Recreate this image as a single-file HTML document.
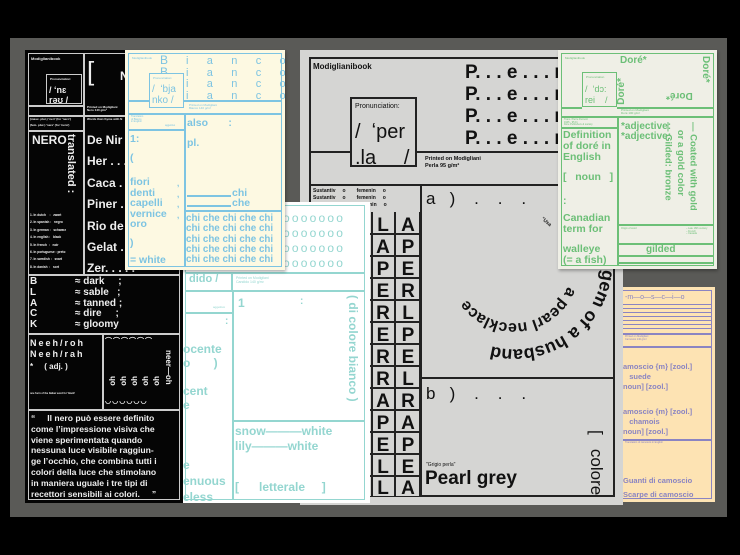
<!DOCTYPE html>
<html><head><meta charset="utf-8"><style>
*{margin:0;padding:0;box-sizing:border-box}
body{width:740px;height:555px;background:#000;position:relative;overflow:hidden;font-family:"Liberation Sans",sans-serif;font-weight:bold}
.a{position:absolute}
.bg{left:10px;top:38px;width:717px;height:479px;background:#5a5a57}
.card{position:absolute;overflow:hidden}
.l{position:absolute}
.t{position:absolute;white-space:nowrap;line-height:1}
.v{writing-mode:vertical-rl}
</style></head><body>
<div class="a bg"></div>

<!-- BLACK CARD -->
<div class="card" style="left:25px;top:50px;width:160px;height:453px;background:#050505;color:#eee">
 <div class="l" style="left:3px;top:3px;width:152px;height:447px;border:1.5px solid #ccc"></div>
 <div class="t" style="left:6px;top:7px;font-size:4px">Modiglianibook</div>
 <div class="l" style="left:58px;top:4px;width:1.5px;height:62px;background:#ccc"></div>
 <div class="l" style="left:3px;top:55px;width:56px;height:1.5px;background:#ccc"></div>
 <div class="l" style="left:3px;top:65px;width:152px;height:1.5px;background:#ccc"></div>
 <div class="l" style="left:21px;top:24px;width:36px;height:30px;border:1.5px solid #ccc;background:#050505"></div>
 <div class="t" style="left:25px;top:28px;font-size:3px">Pronunciation:</div>
 <div class="t" style="left:24px;top:36px;font-size:9px">/ ʻnɛ</div>
 <div class="t" style="left:24px;top:46px;font-size:9px">rəʊ /</div>
 <div class="t" style="left:62px;top:8px;font-size:26px;font-weight:normal">[</div>
 <div class="t" style="left:95px;top:20px;font-size:12px">N</div>
 <div class="t" style="left:62px;top:56px;font-size:3px">Printed on Modigliani<br>Nero 140 g/m²</div>
 <div class="t" style="left:5px;top:68px;font-size:3px">(masc. plur.) 'neri' (for 'nero')<br><br>(fem. plur.) 'nere' (for 'nera')</div>
 <div class="l" style="left:3px;top:80px;width:56px;height:1.5px;background:#ccc"></div>
 <div class="l" style="left:58px;top:65px;width:1.5px;height:160px;background:#ccc"></div>
 <div class="t" style="left:62px;top:68px;font-size:3px">Words that rhyme with N</div>
 <div class="t" style="left:7px;top:84px;font-size:12px">NERO</div>
 <div class="t v" style="left:40px;top:84px;font-size:11px">translated :</div>
 <div class="t" style="left:62px;top:80px;font-size:12px;line-height:21.4px">De Nir . .<br>Her . . . .<br>Caca . . .<br>Piner . . .<br>Rio de Ja<br>Gelat . . .<br>Zer. . . . .</div>
 <div class="t" style="left:5px;top:162px;font-size:3.2px;line-height:7.4px">1. In dutch &nbsp;&nbsp;&nbsp;:&nbsp;&nbsp; zwart<br>2. In spanish :&nbsp;&nbsp; negro<br>3. In german :&nbsp;&nbsp; schwarz<br>4. In english :&nbsp;&nbsp; black<br>5. In french &nbsp;:&nbsp;&nbsp; noir<br>6. In portuguese : preto<br>7. In swedish :&nbsp;&nbsp; svart<br>8. In danish &nbsp;:&nbsp;&nbsp; sort</div>
 <div class="l" style="left:3px;top:224px;width:152px;height:1.5px;background:#ccc"></div>
 <div class="t" style="left:5px;top:227px;font-size:10px;line-height:10.8px">B<br>L<br>A<br>C<br>K</div>
 <div class="t" style="left:50px;top:227px;font-size:10px;line-height:10.8px">≈ dark &nbsp;&nbsp;&nbsp;&nbsp;;<br>≈ sable &nbsp;&nbsp;;<br>≈ tanned ;<br>≈ dire &nbsp;&nbsp;&nbsp;&nbsp;;<br>≈ gloomy</div>
 <div class="l" style="left:3px;top:283px;width:152px;height:1.5px;background:#ccc"></div>
 <div class="l" style="left:77px;top:283px;width:1.5px;height:77px;background:#ccc"></div>
 <div class="t" style="left:5px;top:288px;font-size:9px;letter-spacing:2px;line-height:11px">Neeh/roh<br>Neeh/rah</div>
 <div class="t" style="left:5px;top:313px;font-size:8px">* &nbsp;&nbsp;&nbsp;&nbsp;( adj. )</div>
 <div class="t" style="left:5px;top:343px;font-size:2.5px">one form of the Italian word for 'black'</div>
 <div class="t" style="left:80px;top:288px;font-size:7px;letter-spacing:1px">⌒⌒⌒⌒⌒⌒</div>
 <div class="t v" style="left:139px;top:300px;font-size:8px">neer—oh</div>
 <div class="t v" style="left:84px;top:326px;font-size:8px;transform:rotate(180deg)">oh</div>
 <div class="t v" style="left:95px;top:326px;font-size:8px;transform:rotate(180deg)">oh</div>
 <div class="t v" style="left:106px;top:326px;font-size:8px;transform:rotate(180deg)">oh</div>
 <div class="t v" style="left:117px;top:326px;font-size:8px;transform:rotate(180deg)">oh</div>
 <div class="t v" style="left:128px;top:326px;font-size:8px;transform:rotate(180deg)">oh</div>
 <div class="t" style="left:80px;top:348px;font-size:7px;letter-spacing:1px">◡◡◡◡◡◡</div>
 <div class="l" style="left:3px;top:359px;width:152px;height:1.5px;background:#ccc"></div>
 <div class="t" style="left:6px;top:363px;font-size:8.6px;line-height:10.8px">“&nbsp;&nbsp;&nbsp;&nbsp;&nbsp;Il nero può essere definito<br>come l’impressione visiva che<br>viene sperimentata quando<br>nessuna luce visibile raggiun-<br>ge l’occhio, che combina tutti i<br>colori della luce che stimolano<br>in maniera uguale i tre tipi di<br>recettori sensibili ai colori. &nbsp;&nbsp;&nbsp;&nbsp;”</div>
</div>

<!-- PERLA CARD -->
<div class="card" style="left:300px;top:50px;width:323px;height:455px;background:#d5d5d3;color:#111">
 <div class="l" style="left:9px;top:7px;width:306px;height:440px;border:2px solid #222"></div>
 <div class="t" style="left:13px;top:13px;font-size:8px">Modiglianibook</div>
 <div class="t" style="left:165px;top:12px;font-size:19px;line-height:22px">P. . . e . . . r. .<br>P. . . e . . . r. .<br>P. . . e . . . r. .<br>P. . . e . . . r. .</div>
 <div class="l" style="left:50px;top:47px;width:67px;height:70px;border:2px solid #222"></div>
 <div class="t" style="left:55px;top:53px;font-size:7px;font-weight:normal">Pronunciation:</div>
 <div class="t" style="left:55px;top:69px;font-size:20px;font-weight:normal;line-height:26px">/ &nbsp;ʻper<br>.la &nbsp;&nbsp;&nbsp;&nbsp;/</div>
 <div class="l" style="left:9px;top:101px;width:41px;height:2px;background:#222"></div>
 <div class="l" style="left:117px;top:101px;width:200px;height:2px;background:#222"></div>
 <div class="t" style="left:125px;top:106px;font-size:5.5px;line-height:7px">Printed on Modigliani<br>Perla 95 g/m²</div>
 <div class="l" style="left:9px;top:134px;width:306px;height:2px;background:#222"></div>
 <div class="t" style="left:13px;top:138px;font-size:5px;line-height:7px">Sustantiv&nbsp;&nbsp;&nbsp;&nbsp;&nbsp;o&nbsp;&nbsp;&nbsp;&nbsp;&nbsp;&nbsp;&nbsp;&nbsp;femenin&nbsp;&nbsp;&nbsp;&nbsp;&nbsp;o<br>Sustantiv&nbsp;&nbsp;&nbsp;&nbsp;&nbsp;o&nbsp;&nbsp;&nbsp;&nbsp;&nbsp;&nbsp;&nbsp;&nbsp;femenin&nbsp;&nbsp;&nbsp;&nbsp;&nbsp;o<br>&nbsp;&nbsp;&nbsp;&nbsp;&nbsp;&nbsp;&nbsp;&nbsp;&nbsp;&nbsp;&nbsp;&nbsp;&nbsp;&nbsp;&nbsp;&nbsp;&nbsp;&nbsp;&nbsp;&nbsp;&nbsp;&nbsp;&nbsp;&nbsp;&nbsp;&nbsp;&nbsp;&nbsp;&nbsp;&nbsp;&nbsp;&nbsp;femenin&nbsp;&nbsp;&nbsp;&nbsp;&nbsp;o</div>
 <div class="l" style="left:120px;top:134px;width:2px;height:312px;background:#222"></div>
 <div class="t" style="left:126px;top:140px;font-size:17px;font-weight:normal">a &nbsp;&nbsp;) &nbsp;&nbsp;&nbsp;. &nbsp;&nbsp;&nbsp;. &nbsp;&nbsp;&nbsp;.</div>
 <div class="l" style="left:120px;top:327px;width:195px;height:2px;background:#222"></div>
 <div class="t" style="left:126px;top:335px;font-size:17px;font-weight:normal">b &nbsp;&nbsp;) &nbsp;&nbsp;&nbsp;. &nbsp;&nbsp;&nbsp;. &nbsp;&nbsp;&nbsp;.</div>
 <div class="t v" style="left:288px;top:380px;font-size:17px;font-weight:normal;line-height:17px">[ &nbsp;&nbsp;colore &nbsp;&nbsp;&nbsp;]</div>
 <div class="t" style="left:126px;top:413px;font-size:5px;font-weight:normal">"Grigio perla"</div>
 <div class="t" style="left:125px;top:419px;font-size:19px">Pearl grey</div>
 <div class="t" style="left:240px;top:170px;font-size:5px;transform:rotate(40deg)">"Usa</div>
 <div class="t v" style="left:322px;top:233px;font-size:4px">erle"</div>
</div>
<!-- letter grid -->
<div class="a" style="left:370px;top:212px;width:50px;height:284px;background:#d5d5d3"></div>
<svg class="a" style="left:0;top:0" width="740" height="555">
 <g stroke="#222" stroke-width="2" fill="none">
  <line x1="372" y1="212" x2="372" y2="496"/><line x1="395" y1="212" x2="395" y2="496"/><line x1="420" y1="212" x2="420" y2="496"/>
 </g>
 <g stroke="#222" stroke-width="2">
  <line x1="370" y1="234" x2="420" y2="234"/><line x1="370" y1="256" x2="420" y2="256"/><line x1="370" y1="278" x2="420" y2="278"/><line x1="370" y1="300" x2="420" y2="300"/><line x1="370" y1="322" x2="420" y2="322"/><line x1="370" y1="344" x2="420" y2="344"/><line x1="370" y1="366" x2="420" y2="366"/><line x1="370" y1="388" x2="420" y2="388"/><line x1="370" y1="410" x2="420" y2="410"/><line x1="370" y1="432" x2="420" y2="432"/><line x1="370" y1="454" x2="420" y2="454"/><line x1="370" y1="476" x2="420" y2="476"/>
 </g>
 <g font-family="Liberation Sans" font-size="19" fill="#111" text-anchor="middle">
  <text x="383" y="231">L</text><text x="408" y="231">A</text>
  <text x="383" y="253">A</text><text x="408" y="253">P</text>
  <text x="383" y="275">P</text><text x="408" y="275">E</text>
  <text x="383" y="297">E</text><text x="408" y="297">R</text>
  <text x="383" y="319">R</text><text x="408" y="319">L</text>
  <text x="383" y="341">E</text><text x="408" y="341">P</text>
  <text x="383" y="363">R</text><text x="408" y="363">E</text>
  <text x="383" y="385">R</text><text x="408" y="385">L</text>
  <text x="383" y="407">A</text><text x="408" y="407">R</text>
  <text x="383" y="429">P</text><text x="408" y="429">A</text>
  <text x="383" y="451">E</text><text x="408" y="451">P</text>
  <text x="383" y="473">L</text><text x="408" y="473">E</text>
  <text x="383" y="494">L</text><text x="408" y="494">A</text>
 </g>
 <defs>
  <path id="c1" d="M 602.7 254.3 A 88 88 0 1 1 432 232"/>
  <path id="c2" d="M 567.6 286.5 A 58 58 0 1 1 460.5 242"/>
 </defs>
 <text font-family="Liberation Sans" font-size="18" fill="#111"><textPath href="#c1">a gem of a husband</textPath></text>
 <text font-family="Liberation Sans" font-size="16" fill="#111"><textPath href="#c2">a pearl necklace</textPath></text>
</svg>

<!-- WHITE CANDIDO CARD -->
<div class="card" style="left:183px;top:202px;width:187px;height:301px;background:#fff;color:#94d6d0">
 <div class="l" style="left:2px;top:3px;width:180px;height:295px;border:1.5px solid #94d6d0"></div>
 <div class="t" style="left:100px;top:9px;font-size:12px;letter-spacing:2.2px;line-height:15px;font-weight:normal">ooooooo<br>ooooooo<br>ooooooo<br>ooooooo</div>
 <div class="l" style="left:2px;top:70px;width:180px;height:1.5px;background:#94d6d0"></div>
 <div class="t" style="left:6px;top:72px;font-size:11px">dido /</div>
 <div class="l" style="left:48px;top:70px;width:1.5px;height:18px;background:#94d6d0"></div>
 <div class="t" style="left:53px;top:75px;font-size:3.5px;font-weight:normal">Printed on Modigliani<br>Candido 140 g/m²</div>
 <div class="l" style="left:2px;top:88px;width:180px;height:1.5px;background:#94d6d0"></div>
 <div class="l" style="left:49px;top:88px;width:1.5px;height:210px;background:#94d6d0"></div>
 <div class="l" style="left:2px;top:110px;width:48px;height:1.5px;background:#94d6d0"></div>
 <div class="t" style="left:30px;top:104px;font-size:3px;font-weight:normal">aggettivo</div>
 <div class="t" style="left:42px;top:115px;font-size:10px">:</div>
 <div class="t" style="left:0px;top:140px;font-size:12px;line-height:14px">ocente<br>o &nbsp;&nbsp;&nbsp;&nbsp;&nbsp;&nbsp;)<br><br>cent<br>e</div>
 <div class="t" style="left:0px;top:255px;font-size:12px;line-height:16px">e<br>enuous<br>eless</div>
 <div class="t" style="left:55px;top:95px;font-size:12px">1</div>
 <div class="t" style="left:117px;top:95px;font-size:10px">:</div>
 <div class="t v" style="left:164px;top:93px;font-size:12px">( di colore bianco )</div>
 <div class="l" style="left:49px;top:218px;width:133px;height:1.5px;background:#94d6d0"></div>
 <div class="t" style="left:52px;top:222px;font-size:12px;line-height:15px">snow———white<br>lily———white</div>
 <div class="t" style="left:52px;top:279px;font-size:12px">[ &nbsp;&nbsp;&nbsp;&nbsp;&nbsp;letterale &nbsp;&nbsp;&nbsp;&nbsp;]</div>
</div>

<!-- BIANCO CARD -->
<div class="card" style="left:125px;top:50px;width:160px;height:220px;background:#fdf9e2;color:#7dc4e2;box-shadow:1px 2px 3px rgba(0,0,0,.3)">
 <div class="l" style="left:3px;top:3px;width:154px;height:214px;border:1.5px solid #7dc4e2"></div>
 <div class="t" style="left:7px;top:7px;font-size:3px;font-weight:normal">Modiglianibook</div>
 <div class="t" style="left:35px;top:5px;font-size:12px;font-weight:normal;line-height:11.5px">B<br>B<br>B<br>B</div>
 <div class="t" style="left:61px;top:6px;font-size:11px;font-weight:normal;line-height:11.5px">i&nbsp;&nbsp;&nbsp;&nbsp;&nbsp;&nbsp;a&nbsp;&nbsp;&nbsp;&nbsp;&nbsp;&nbsp;n&nbsp;&nbsp;&nbsp;&nbsp;&nbsp;&nbsp;c&nbsp;&nbsp;&nbsp;&nbsp;&nbsp;&nbsp;o<br>i&nbsp;&nbsp;&nbsp;&nbsp;&nbsp;&nbsp;a&nbsp;&nbsp;&nbsp;&nbsp;&nbsp;&nbsp;n&nbsp;&nbsp;&nbsp;&nbsp;&nbsp;&nbsp;c&nbsp;&nbsp;&nbsp;&nbsp;&nbsp;&nbsp;o<br>i&nbsp;&nbsp;&nbsp;&nbsp;&nbsp;&nbsp;a&nbsp;&nbsp;&nbsp;&nbsp;&nbsp;&nbsp;n&nbsp;&nbsp;&nbsp;&nbsp;&nbsp;&nbsp;c&nbsp;&nbsp;&nbsp;&nbsp;&nbsp;&nbsp;o<br>i&nbsp;&nbsp;&nbsp;&nbsp;&nbsp;&nbsp;a&nbsp;&nbsp;&nbsp;&nbsp;&nbsp;&nbsp;n&nbsp;&nbsp;&nbsp;&nbsp;&nbsp;&nbsp;c&nbsp;&nbsp;&nbsp;&nbsp;&nbsp;&nbsp;o</div>
 <div class="l" style="left:24px;top:23px;width:35px;height:35px;border:1.5px solid #7dc4e2;background:#fdf9e2"></div>
 <div class="t" style="left:28px;top:27px;font-size:3px;font-weight:normal">Pronunciation:</div>
 <div class="t" style="left:27px;top:34px;font-size:10px;font-weight:normal;line-height:11px">/ &nbsp;ʻbja<br>nko /</div>
 <div class="l" style="left:3px;top:50px;width:21px;height:1.5px;background:#7dc4e2"></div>
 <div class="l" style="left:59px;top:50px;width:98px;height:1.5px;background:#7dc4e2"></div>
 <div class="t" style="left:64px;top:54px;font-size:3px;font-weight:normal">Printed on Modigliani<br>Bianco 140 g/m²</div>
 <div class="l" style="left:3px;top:63px;width:154px;height:1.5px;background:#7dc4e2"></div>
 <div class="l" style="left:59px;top:63px;width:1.5px;height:154px;background:#7dc4e2"></div>
 <div class="t" style="left:6px;top:66px;font-size:2.5px;font-weight:normal">Translation<br>of Bianco<br>in English</div>
 <div class="t" style="left:40px;top:75px;font-size:2.5px;font-weight:normal">aggettivo</div>
 <div class="l" style="left:3px;top:79px;width:56px;height:1.5px;background:#7dc4e2"></div>
 <div class="t" style="left:5px;top:84px;font-size:10.5px">1:</div>
 <div class="t" style="left:5px;top:103px;font-size:10.5px">(</div>
 <div class="t" style="left:5px;top:127px;font-size:10.5px;line-height:10.6px">fiori<br>denti<br>capelli<br>vernice<br>oro</div>
 <div class="t" style="left:52px;top:129px;font-size:8px;line-height:10.6px">,<br>,<br>,<br>,</div>
 <div class="t" style="left:5px;top:188px;font-size:10.5px">)</div>
 <div class="t" style="left:5px;top:205px;font-size:10.5px">= white</div>
 <div class="t" style="left:62px;top:68px;font-size:10.5px">also &nbsp;&nbsp;&nbsp;&nbsp;&nbsp;&nbsp;:</div>
 <div class="t" style="left:62px;top:88px;font-size:10.5px">pl.</div>
 <div class="l" style="left:62px;top:145px;width:44px;height:1.5px;background:#7dc4e2"></div>
 <div class="t" style="left:107px;top:138px;font-size:10.5px">chi</div>
 <div class="l" style="left:62px;top:155px;width:44px;height:1.5px;background:#7dc4e2"></div>
 <div class="t" style="left:107px;top:148px;font-size:10.5px">che</div>
 <div class="l" style="left:59px;top:160px;width:98px;height:1.5px;background:#7dc4e2"></div>
 <div class="t" style="left:61px;top:164px;font-size:9.8px;line-height:10.3px">chi che chi che chi<br>chi che chi che chi<br>chi che chi che chi<br>chi che chi che chi<br>chi che chi che chi</div>
</div>

<!-- DORE CARD -->
<div class="card" style="left:558px;top:50px;width:159px;height:219px;background:#efefe6;color:#6cbf77;box-shadow:1px 2px 3px rgba(0,0,0,.3)">
 <div class="l" style="left:3px;top:3px;width:153px;height:213px;border:1.5px solid #6cbf77"></div>
 <div class="t" style="left:7px;top:7px;font-size:3px;font-weight:normal">Modiglianibook</div>
 <div class="t" style="left:62px;top:6px;font-size:10px">Doré*</div>
 <div class="t v" style="left:59px;top:28px;font-size:10px;transform:rotate(180deg)">Doré*</div>
 <div class="t v" style="left:142px;top:6px;font-size:10px">Doré*</div>
 <div class="t" style="left:108px;top:40px;font-size:10px;transform:rotate(180deg)">Doré*</div>
 <div class="l" style="left:24px;top:22px;width:35px;height:35px;border:1.5px solid #6cbf77;background:#efefe6"></div>
 <div class="t" style="left:28px;top:26px;font-size:3px;font-weight:normal">Pronunciation</div>
 <div class="t" style="left:27px;top:34px;font-size:9px;font-weight:normal;line-height:11px">/ &nbsp;ʻdɔ:<br>rei &nbsp;&nbsp;&nbsp;/</div>
 <div class="l" style="left:3px;top:57px;width:21px;height:1.5px;background:#6cbf77"></div>
 <div class="l" style="left:59px;top:57px;width:97px;height:1.5px;background:#6cbf77"></div>
 <div class="t" style="left:63px;top:59px;font-size:3px;font-weight:normal">Printed on Modigliani<br>Doré 100 g/m²</div>
 <div class="l" style="left:3px;top:66px;width:153px;height:1.5px;background:#6cbf77"></div>
 <div class="l" style="left:59px;top:66px;width:1.5px;height:150px;background:#6cbf77"></div>
 <div class="t" style="left:6px;top:69px;font-size:2.5px;font-weight:normal">Trans. Pierre Dumont<br>1945 - 95 Fr.<br>Dore Publishers &amp; society</div>
 <div class="l" style="left:3px;top:77px;width:56px;height:1.5px;background:#6cbf77"></div>
 <div class="t" style="left:5px;top:80px;font-size:10.5px;line-height:11px">Definition<br>of doré in<br>English</div>
 <div class="t" style="left:5px;top:122px;font-size:10.5px">[ &nbsp;&nbsp;noun &nbsp;&nbsp;]</div>
 <div class="t" style="left:5px;top:146px;font-size:10.5px">:</div>
 <div class="t" style="left:5px;top:163px;font-size:10.5px;line-height:11px">Canadian<br>term for</div>
 <div class="t" style="left:5px;top:194px;font-size:10.5px;line-height:11px">walleye<br>(= a fish)</div>
 <div class="t" style="left:63px;top:72px;font-size:10px;line-height:10px">*adjective:<br>*adjective:</div>
 <div class="t v" style="left:103px;top:72px;font-size:9.5px;line-height:12.5px">— Coated with gold<br>&nbsp;&nbsp;&nbsp;or a gold color<br>— Gilded: bronze</div>
 <div class="l" style="left:59px;top:174px;width:97px;height:1.5px;background:#6cbf77"></div>
 <div class="t" style="left:63px;top:178px;font-size:2.5px;font-weight:normal">Origin of word</div>
 <div class="t" style="left:128px;top:178px;font-size:2.5px;font-weight:normal">– Late 18th century<br>– French<br>– Canada</div>
 <div class="l" style="left:59px;top:193px;width:97px;height:1.5px;background:#6cbf77"></div>
 <div class="l" style="left:59px;top:205px;width:97px;height:1.5px;background:#6cbf77"></div>
 <div class="l" style="left:59px;top:212px;width:97px;height:1.5px;background:#6cbf77"></div>
 <div class="t" style="left:88px;top:195px;font-size:10px">gilded</div>
</div>

<!-- CAMOSCIO CARD -->
<div class="card" style="left:623px;top:287px;width:92px;height:215px;background:#fde3b3;color:#8a84c2">
 <div class="l" style="left:0;top:3px;width:89px;height:209px;border:1.5px solid #8a84c2;border-left:none"></div>
 <div class="t" style="left:2px;top:7px;font-size:7px;font-weight:normal">-m—o—s—c—i—o</div>
 <div class="l" style="left:0;top:17px;width:89px;height:1px;background:#8a84c2"></div>
 <div class="l" style="left:0;top:21px;width:89px;height:1px;background:#8a84c2"></div>
 <div class="l" style="left:0;top:25px;width:89px;height:1px;background:#8a84c2"></div>
 <div class="l" style="left:0;top:29px;width:89px;height:1px;background:#8a84c2"></div>
 <div class="l" style="left:0;top:33px;width:89px;height:1px;background:#8a84c2"></div>
 <div class="l" style="left:0;top:37px;width:89px;height:1px;background:#8a84c2"></div>
 <div class="l" style="left:0;top:41px;width:89px;height:1px;background:#8a84c2"></div>
 <div class="l" style="left:0;top:46px;width:89px;height:1.5px;background:#8a84c2"></div>
 <div class="t" style="left:2px;top:49px;font-size:2.5px;font-weight:normal">Printed on Modigliani<br>Camoscio 140 g/m²</div>
 <div class="l" style="left:0;top:59px;width:89px;height:1.5px;background:#8a84c2"></div>
 <div class="t" style="left:0px;top:75px;font-size:7.5px;line-height:10px">amoscio {m} [zool.]<br>&nbsp;&nbsp;&nbsp;suede<br>noun] [zool.]</div>
 <div class="t" style="left:0px;top:120px;font-size:7.5px;line-height:10px">amoscio {m} [zool.]<br>&nbsp;&nbsp;&nbsp;chamois<br>noun] [zool.]</div>
 <div class="l" style="left:0;top:152px;width:89px;height:1.5px;background:#8a84c2"></div>
 <div class="t" style="left:2px;top:155px;font-size:2.5px;font-weight:normal">Translation of camoscio in English</div>
 <div class="t" style="left:0px;top:187px;font-size:7.5px;line-height:14px">Guanti di camoscio<br>Scarpe di camoscio</div>
</div>
</body></html>
